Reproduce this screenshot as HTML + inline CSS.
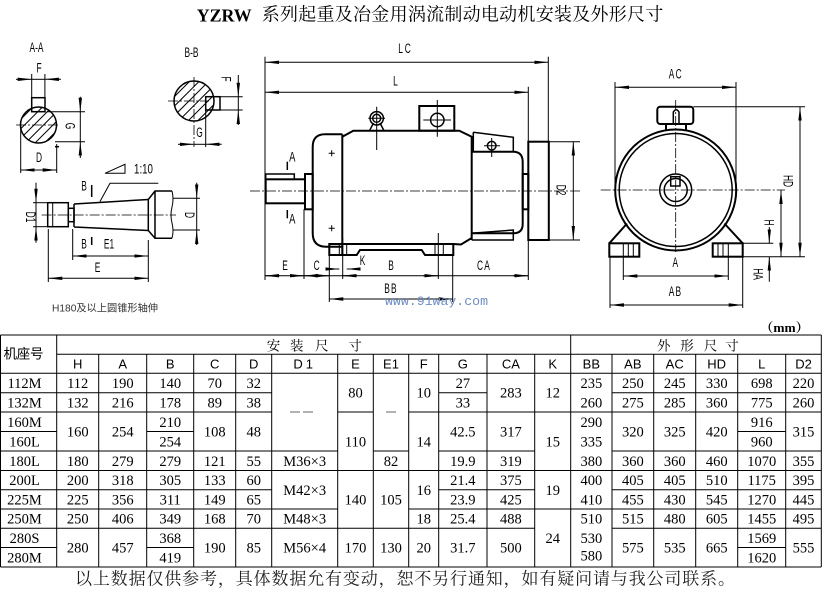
<!DOCTYPE html>
<html><head><meta charset="utf-8"><style>
html,body{margin:0;padding:0;background:#fff;}
svg{display:block;}
.t{stroke:#000;stroke-width:1;fill:none}
.k{stroke:#000;stroke-width:2;fill:none}
.m{stroke:#000;stroke-width:1.5;fill:none}
.c{stroke:#000;stroke-width:.8;stroke-dasharray:10 2 2 2;fill:none}
.d{stroke:#000;stroke-width:1;fill:none;marker-start:url(#a);marker-end:url(#a)}
.e{stroke:#000;stroke-width:1;fill:none;marker-end:url(#a)}
.lb{font-family:"Liberation Sans",sans-serif;font-size:13.5px;fill:#000}
.n{font-family:"Liberation Serif",serif;font-size:14.5px;fill:#000}
.h{font-family:"Liberation Sans",sans-serif;font-size:13px;fill:#000}
.tl{stroke:#000;stroke-width:1}
</style></head><body>
<svg width="837" height="605" viewBox="0 0 837 605" xmlns="http://www.w3.org/2000/svg">
<defs>
<marker id="a" viewBox="0 0 14 4" refX="14" refY="2" markerWidth="14" markerHeight="4" markerUnits="userSpaceOnUse" orient="auto-start-reverse"><path d="M0,0.3 L14,2 L0,3.7z" fill="#000"/></marker>
<clipPath id="cA"><circle cx="38.5" cy="125" r="18"/></clipPath>
<clipPath id="cB"><circle cx="194" cy="101" r="20"/></clipPath>
</defs>

<!-- Title -->
<text x="196.7" y="21.5" font-family="Liberation Serif,serif" font-weight="bold" font-size="18" textLength="55" lengthAdjust="spacingAndGlyphs">YZRW</text>
<text x="261.7" y="14.5" dominant-baseline="central" font-family="Liberation Serif,'Noto Serif CJK SC',serif" font-size="18" textLength="401.6" lengthAdjust="spacing">系列起重及冶金用涡流制动电动机安装及外形尺寸</text>

<!-- A-A section -->
<text class="lb" font-size="12" transform="translate(36.5,52) scale(.62,1)" text-anchor="middle">A-A</text>
<circle cx="38.5" cy="125" r="18" class="m"/>
<g clip-path="url(#cA)" class="t" stroke-width=".8">
<line x1="18" y1="122" x2="60" y2="80"/><line x1="18" y1="131.5" x2="60" y2="89.5"/><line x1="18" y1="141" x2="60" y2="99"/><line x1="18" y1="150.5" x2="60" y2="108.5"/><line x1="18" y1="160" x2="60" y2="118"/><line x1="18" y1="169.5" x2="60" y2="127.5"/><line x1="18" y1="179" x2="60" y2="137"/>
</g>
<rect x="31.7" y="97.7" width="13.3" height="14" fill="#fff" class="m"/>
<line x1="16" y1="125" x2="60" y2="125" class="c"/>
<line class="e" x1="16" y1="79.3" x2="31.7" y2="79.3"/><line class="e" x1="61" y1="79.3" x2="44.9" y2="79.3"/><line class="t" x1="31.7" y1="79.3" x2="44.9" y2="79.3"/>
<line class="t" x1="31.7" y1="74" x2="31.7" y2="97.7"/><line class="t" x1="44.9" y1="74" x2="44.9" y2="97.7"/>
<text class="lb" transform="translate(39,72.5) scale(.62,1)" text-anchor="middle">F</text>
<line class="e" x1="80.3" y1="96.7" x2="80.3" y2="111.7"/><line class="e" x1="80.3" y1="158" x2="80.3" y2="141.7"/><line class="t" x1="80.3" y1="111.7" x2="80.3" y2="141.7"/>
<line class="t" x1="46.7" y1="111.7" x2="85" y2="111.7"/><line class="t" x1="55" y1="141.7" x2="85" y2="141.7"/>
<text class="lb" transform="translate(70,126) rotate(90) scale(.62,1)" y="4.7" text-anchor="middle">G</text>
<line class="d" x1="20.7" y1="170" x2="56.7" y2="170"/>
<line class="t" x1="20.7" y1="125" x2="20.7" y2="173"/><line class="t" x1="56.7" y1="144" x2="56.7" y2="173"/>
<line x1="55" y1="146.7" x2="59" y2="146.7" class="m"/>
<text class="lb" transform="translate(39,162) scale(.62,1)" text-anchor="middle">D</text>

<!-- B-B section -->
<text class="lb" font-size="12" transform="translate(191.5,57) scale(.62,1)" text-anchor="middle">B-B</text>
<circle cx="194" cy="101" r="20" class="m"/>
<g clip-path="url(#cB)" class="t" stroke-width=".8">
<line x1="172" y1="99" x2="216" y2="55"/><line x1="172" y1="108.5" x2="216" y2="64.5"/><line x1="172" y1="118" x2="216" y2="74"/><line x1="172" y1="127.5" x2="216" y2="83.5"/><line x1="172" y1="137" x2="216" y2="93"/><line x1="172" y1="146.5" x2="216" y2="102.5"/><line x1="172" y1="156" x2="216" y2="112"/><line x1="172" y1="165.5" x2="216" y2="121.5"/>
</g>
<rect x="205.7" y="96.7" width="14.3" height="13.3" fill="#fff" class="m"/>
<line x1="168" y1="101" x2="209" y2="101" class="c"/><line x1="194" y1="77" x2="194" y2="147" class="c"/>
<line class="e" x1="238.3" y1="75" x2="238.3" y2="96.7"/><line class="e" x1="238.3" y1="125" x2="238.3" y2="110"/><line class="t" x1="238.3" y1="96.7" x2="238.3" y2="110"/>
<line class="t" x1="220" y1="96.7" x2="242.7" y2="96.7"/><line class="t" x1="220" y1="110" x2="242.7" y2="110"/>
<text class="lb" transform="translate(226,79) rotate(90) scale(.62,1)" y="4.7" text-anchor="middle">F</text>
<line class="e" x1="178" y1="144.3" x2="194" y2="144.3"/><line class="e" x1="221.7" y1="144.3" x2="205.7" y2="144.3"/><line class="t" x1="194" y1="144.3" x2="205.7" y2="144.3"/>
<line class="t" x1="205.7" y1="110" x2="205.7" y2="147"/>
<text class="lb" transform="translate(199.5,137) scale(.62,1)" text-anchor="middle">G</text>

<!-- Tapered shaft -->
<line x1="41.7" y1="215" x2="176" y2="215" class="c"/>
<rect x="47.7" y="202.7" width="20.6" height="24" class="m"/>
<line x1="52.7" y1="202.7" x2="52.7" y2="226.7" class="t" stroke-width="1.2"/>
<rect x="68.3" y="208.3" width="5.7" height="13.4" class="m"/>
<path class="m" d="M74,204 L148.3,199.5 M74,227 L148.3,230.5 M74,204 V227"/>
<path class="m" d="M148.3,199.5 V230.5 M148.3,199.5 L155,191 H172 M148.3,230.5 L155,238.3 H172 M155,191 V238.3"/>
<path class="t" d="M172,191 q2,8 0,16 q-2,8 0,16 q2,8 0,15.3"/>
<polyline points="100,201.5 110,183.3 158.3,183.3" class="t"/>
<path d="M105,173.3 L125,164.3 V173.3 Z" class="t"/>
<text class="lb" font-size="14" transform="translate(143.5,173.5) scale(.72,1)" text-anchor="middle">1:10</text>
<line x1="91.7" y1="185" x2="91.7" y2="197" class="m"/><line x1="91.7" y1="237" x2="91.7" y2="245" class="m"/>
<text class="lb" transform="translate(84,190.5) scale(.62,1)" text-anchor="middle">B</text>
<text class="lb" transform="translate(84,248.5) scale(.62,1)" text-anchor="middle">B</text>
<text class="lb" transform="translate(109,248.5) scale(.62,1)" text-anchor="middle">E1</text>
<line class="e" x1="36" y1="182.7" x2="36" y2="202.7"/><line class="e" x1="36" y1="242.7" x2="36" y2="226.7"/><line class="t" x1="36" y1="202.7" x2="36" y2="226.7"/>
<line class="t" x1="33" y1="202.7" x2="47.7" y2="202.7"/><line class="t" x1="33" y1="226.7" x2="47.7" y2="226.7"/>
<text class="lb" transform="translate(30.5,217) rotate(90) scale(.62,1)" y="4.7" text-anchor="middle">D1</text>
<line class="e" x1="196.7" y1="182.7" x2="196.7" y2="198.3"/><line class="e" x1="196.7" y1="245" x2="196.7" y2="230"/><line class="t" x1="196.7" y1="198.3" x2="196.7" y2="230"/>
<line class="t" x1="172.7" y1="198.3" x2="200" y2="198.3"/><line class="t" x1="172.7" y1="230" x2="200" y2="230"/>
<text class="lb" transform="translate(189.5,215) rotate(90) scale(.62,1)" y="4.7" text-anchor="middle">D</text>
<line class="d" x1="72.7" y1="256" x2="148.3" y2="256"/>
<line class="t" x1="72.7" y1="229" x2="72.7" y2="260"/><line class="t" x1="148.3" y1="240" x2="148.3" y2="282"/>
<line class="d" x1="48.3" y1="278.3" x2="148.3" y2="278.3"/>
<line class="t" x1="48.3" y1="229" x2="48.3" y2="282"/>
<text class="lb" transform="translate(97.5,272) scale(.62,1)" text-anchor="middle">E</text>
<text x="52" y="311.5" font-family="Liberation Sans,'Noto Sans CJK SC',sans-serif" font-size="10" fill="#333" textLength="106" lengthAdjust="spacingAndGlyphs">H180及以上圆锥形轴伸</text>

<!-- Main side view -->
<line x1="250" y1="191" x2="580" y2="191" class="c"/>
<line class="d" x1="265" y1="62.3" x2="548.3" y2="62.3"/>
<line class="t" x1="265" y1="56.7" x2="265" y2="280"/><line class="t" x1="548.3" y1="56.7" x2="548.3" y2="141.7"/>
<text class="lb" transform="translate(405.5,53) scale(.62,1)" text-anchor="middle" letter-spacing="3">LC</text>
<line class="d" x1="265" y1="92.3" x2="528.3" y2="92.3"/>
<line class="t" x1="528.3" y1="86.7" x2="528.3" y2="280"/>
<text class="lb" transform="translate(395.5,85.5) scale(.62,1)" text-anchor="middle">L</text>
<rect class="k" x="265.7" y="179.3" width="39.3" height="24"/>
<rect class="m" x="265.7" y="174" width="28.6" height="5.3"/>
<rect class="k" x="305" y="174" width="7.7" height="35.3"/>
<path class="k" d="M342.3,134.3 H325 Q312.7,134.3 312.7,147 V233 Q312.7,246.7 326,246.7 H342.3"/>
<line class="k" x1="342.3" y1="134.3" x2="342.3" y2="255"/>
<path class="k" d="M342.3,136.7 L353.3,130.7 H459.3 L471.7,136.7 V240 M453.3,244 L461,244.5 L471.7,238"/>
<path class="k" d="M329.3,244 H453.3 V255 H425 L421.7,250 H360 L356.7,255 H329.3 Z"/>
<path class="t" d="M339.3,244 V255 M346.7,244 V255 M435,244 V255 M443.3,244 V255"/>
<line class="t" x1="342.7" y1="238" x2="342.7" y2="279"/><line class="t" x1="438.3" y1="233" x2="438.3" y2="279"/>
<circle cx="376.7" cy="118.3" r="6.7" class="m"/><circle cx="376.7" cy="118.3" r="4" class="m"/>
<path class="m" d="M369.5,130.7 L373.5,123 M384,130.7 L380,123"/>
<path class="t" d="M376.7,106.7 V150 M368.3,118.3 H385"/>
<rect class="k" x="419.3" y="106" width="35" height="24.7"/>
<circle cx="437.3" cy="120" r="6.7" class="m"/>
<path class="t" d="M437.3,100 V136.7 M423.3,120 H451"/>
<path class="m" d="M473.3,132.3 L513.3,137.3 V151.7 M473.3,132.3 V151.7"/>
<circle cx="491.7" cy="145.7" r="4.3" class="m"/>
<path class="t" d="M491.7,138 V157 M484,145.7 H500"/>
<path class="k" d="M471.7,151.7 H513.3 Q522.7,151.7 522.7,162 V224 Q522.7,233.3 513.3,233.3 H471.7"/>
<path class="m" d="M471.7,233.3 L513.3,230 V240 H471.7"/>
<rect class="k" x="522.7" y="174" width="5.6" height="35.3"/>
<rect class="k" x="528.3" y="141.7" width="20.5" height="98.3"/>
<path class="t" d="M328.7,153.3h6M331.7,150.3v6 M328.7,228.3h6M331.7,225.3v6"/>
<line class="m" x1="287.3" y1="161.7" x2="287.3" y2="170"/><line class="m" x1="287.3" y1="210" x2="287.3" y2="218.3"/>
<text class="lb" font-size="9.5" transform="translate(292.3,161.5) scale(.7,1)" text-anchor="middle">A</text>
<text class="lb" font-size="9.5" transform="translate(292.3,223.5) scale(.7,1)" text-anchor="middle">A</text>
<line class="d" x1="573.3" y1="141.7" x2="573.3" y2="240"/>
<line class="t" x1="549.3" y1="141.7" x2="580" y2="141.7"/><line class="t" x1="549.3" y1="240" x2="580" y2="240"/>
<text class="lb" transform="translate(561,190) rotate(90) scale(.62,1)" y="4.7" text-anchor="middle">D2</text>
<!-- bottom dims -->
<line class="t" x1="265" y1="275.7" x2="528.3" y2="275.7"/>
<line class="e" x1="280" y1="275.7" x2="265" y2="275.7"/>
<line class="e" x1="290" y1="275.7" x2="304" y2="275.7"/>
<line class="e" x1="316" y1="275.7" x2="304" y2="275.7"/>
<line class="e" x1="318" y1="275.7" x2="329.3" y2="275.7"/>
<line class="e" x1="357" y1="275.7" x2="342.7" y2="275.7"/>
<line class="e" x1="423" y1="275.7" x2="438.3" y2="275.7"/>
<line class="e" x1="513" y1="275.7" x2="528.3" y2="275.7"/>
<line class="t" x1="304" y1="209.3" x2="304" y2="279"/>
<line class="t" x1="329.3" y1="255" x2="329.3" y2="302"/>
<line class="t" x1="452.7" y1="255" x2="452.7" y2="302"/>
<line class="e" x1="328.3" y1="269" x2="339.3" y2="269"/><line class="e" x1="360" y1="269" x2="346.7" y2="269"/>
<line class="d" x1="329.3" y1="299" x2="452.7" y2="299"/>
<text class="lb" transform="translate(285,270) scale(.62,1)" text-anchor="middle">E</text>
<text class="lb" transform="translate(316.7,270) scale(.62,1)" text-anchor="middle">C</text>
<text class="lb" transform="translate(362.5,265) scale(.62,1)" text-anchor="middle">K</text>
<text class="lb" transform="translate(391,270) scale(.62,1)" text-anchor="middle">B</text>
<text class="lb" transform="translate(484,270) scale(.62,1)" text-anchor="middle" letter-spacing="2">CA</text>
<text class="lb" transform="translate(391,293) scale(.62,1)" text-anchor="middle" letter-spacing="2">BB</text>
<text x="385" y="305" font-family="Liberation Mono,monospace" font-size="13" fill="#6f8ec4" textLength="103" lengthAdjust="spacingAndGlyphs">www.91way.com</text>

<!-- Front view -->
<line class="d" x1="615" y1="87.3" x2="736" y2="87.3"/>
<line class="t" x1="615" y1="82" x2="615" y2="190"/><line class="t" x1="736" y1="82" x2="736" y2="190"/>
<text class="lb" transform="translate(675.8,78.5) scale(.62,1)" text-anchor="middle" letter-spacing="2">AC</text>
<circle cx="675.7" cy="190" r="60.5" class="k"/>
<circle cx="675.7" cy="190" r="56.5" class="m"/>
<circle cx="675.7" cy="190" r="16" class="m"/>
<circle cx="675.7" cy="190" r="11.5" class="m"/>
<rect x="670.7" y="176.7" width="9.3" height="9.3" fill="#fff" class="m"/>
<path class="k" d="M666,124 V130.5 M686,124 V130.5"/>
<rect x="657.3" y="106.7" width="36" height="17.3" rx="3" fill="#fff" class="k"/>
<path class="m" d="M673.3,124 V112 Q676.2,107.5 679,112 V124"/>
<line x1="675.7" y1="100" x2="675.7" y2="252" class="c"/>
<line x1="600.7" y1="190" x2="785" y2="190" class="c"/>
<path class="k" d="M609.3,243.3 L627,223.5 M742.7,243.3 L724.4,223.5"/>
<rect x="609.3" y="243.3" width="30" height="13.4" fill="#fff" class="k"/>
<rect x="712.7" y="243.3" width="30" height="13.4" fill="#fff" class="k"/>
<path class="t" d="M623.3,243.3V256.7M628.3,243.3V256.7M633.3,243.3V256.7M718,243.3V256.7M723,243.3V256.7M728.3,243.3V256.7"/>
<line class="d" x1="623.3" y1="276" x2="728.3" y2="276"/>
<line class="t" x1="623.3" y1="256.7" x2="623.3" y2="280"/><line class="t" x1="728.3" y1="256.7" x2="728.3" y2="280"/>
<text class="lb" transform="translate(675.3,267) scale(.62,1)" text-anchor="middle">A</text>
<line class="d" x1="610" y1="305" x2="742.7" y2="305"/>
<line class="t" x1="610" y1="256.7" x2="610" y2="308"/><line class="t" x1="742.7" y1="256.7" x2="742.7" y2="308"/>
<text class="lb" transform="translate(675.5,296) scale(.62,1)" text-anchor="middle" letter-spacing="2">AB</text>
<line class="d" x1="800" y1="106.7" x2="800" y2="256.7"/>
<line class="t" x1="693.3" y1="106.7" x2="805" y2="106.7"/><line class="t" x1="742.7" y1="256.7" x2="805" y2="256.7"/>
<text class="lb" transform="translate(788.3,181) rotate(90) scale(.62,1)" y="4.7" text-anchor="middle">HD</text>
<line class="d" x1="781" y1="190" x2="781" y2="256.7"/>
<text class="lb" transform="translate(769,222.5) rotate(90) scale(.62,1)" y="4.7" text-anchor="middle">H</text>
<line class="e" x1="769.3" y1="227" x2="769.3" y2="243.3"/><line class="e" x1="769.3" y1="281.7" x2="769.3" y2="256.7"/>
<line class="t" x1="742.7" y1="243.3" x2="773.3" y2="243.3"/>
<text class="lb" transform="translate(758.3,274) rotate(90) scale(.62,1)" y="4.7" text-anchor="middle">HA</text>

<!-- mm -->
<text x="760" y="332" font-family="Liberation Serif,'Noto Serif CJK SC',serif" font-weight="bold" font-size="13" textLength="49" lengthAdjust="spacingAndGlyphs">（mm）</text>

<!-- Table lines -->
<g class="tl">
<line x1="0.5" y1="335" x2="821.3" y2="335"/>
<line x1="56.7" y1="354.3" x2="821.3" y2="354.3"/>
<line x1="0.5" y1="373.3" x2="821.3" y2="373.3"/>
<line x1="0.5" y1="567" x2="821.3" y2="567"/>
<line x1="0.5" y1="392.7" x2="271.7" y2="392.7"/><line x1="438.7" y1="392.7" x2="487" y2="392.7"/><line x1="612" y1="392.7" x2="821.3" y2="392.7"/>
<line x1="0.5" y1="412" x2="271.7" y2="412"/><line x1="337.7" y1="412" x2="373.3" y2="412"/><line x1="408.7" y1="412" x2="821.3" y2="412"/>
<line x1="0.5" y1="431.5" x2="56.7" y2="431.5"/><line x1="146.7" y1="431.5" x2="193.7" y2="431.5"/><line x1="737.7" y1="431.5" x2="785.7" y2="431.5"/>
<line x1="0.5" y1="451" x2="337.7" y2="451"/><line x1="373.3" y1="451" x2="408.7" y2="451"/><line x1="438.7" y1="451" x2="534.7" y2="451"/><line x1="612" y1="451" x2="821.3" y2="451"/>
<line x1="0.5" y1="470.5" x2="821.3" y2="470.5"/>
<line x1="0.5" y1="489.7" x2="271.7" y2="489.7"/><line x1="438.7" y1="489.7" x2="534.7" y2="489.7"/><line x1="612" y1="489.7" x2="821.3" y2="489.7"/>
<line x1="0.5" y1="509" x2="337.7" y2="509"/><line x1="408.7" y1="509" x2="821.3" y2="509"/>
<line x1="0.5" y1="528.3" x2="534.7" y2="528.3"/><line x1="612" y1="528.3" x2="821.3" y2="528.3"/>
<line x1="0.5" y1="547.5" x2="56.7" y2="547.5"/><line x1="146.7" y1="547.5" x2="193.7" y2="547.5"/><line x1="737.7" y1="547.5" x2="785.7" y2="547.5"/>
<line x1="0.5" y1="335" x2="0.5" y2="567"/>
<line x1="56.7" y1="335" x2="56.7" y2="567"/>
<line x1="570.7" y1="335" x2="570.7" y2="567"/>
<line x1="821.3" y1="335" x2="821.3" y2="567"/>
<line x1="98.7" y1="354.3" x2="98.7" y2="567"/><line x1="146.7" y1="354.3" x2="146.7" y2="567"/><line x1="193.7" y1="354.3" x2="193.7" y2="567"/><line x1="235.7" y1="354.3" x2="235.7" y2="567"/><line x1="271.7" y1="354.3" x2="271.7" y2="567"/><line x1="337.7" y1="354.3" x2="337.7" y2="567"/><line x1="373.3" y1="354.3" x2="373.3" y2="567"/><line x1="408.7" y1="354.3" x2="408.7" y2="567"/><line x1="438.7" y1="354.3" x2="438.7" y2="567"/><line x1="487" y1="354.3" x2="487" y2="567"/><line x1="534.7" y1="354.3" x2="534.7" y2="567"/><line x1="612" y1="354.3" x2="612" y2="567"/><line x1="653.7" y1="354.3" x2="653.7" y2="567"/><line x1="695.7" y1="354.3" x2="695.7" y2="567"/><line x1="737.7" y1="354.3" x2="737.7" y2="567"/><line x1="785.7" y1="354.3" x2="785.7" y2="567"/>
</g>

<!-- Table headers -->
<text x="3.5" y="354" dominant-baseline="central" font-family="Liberation Sans,'Noto Sans CJK SC',sans-serif" font-size="13.5" textLength="40">机座号</text>
<g font-family="Liberation Serif,'Noto Serif CJK SC',serif" font-size="13.5">
<text x="266.7" y="346" dominant-baseline="central">安</text><text x="290" y="346" dominant-baseline="central">装</text><text x="315" y="346" dominant-baseline="central">尺</text><text x="348.3" y="346" dominant-baseline="central">寸</text>
<text x="657" y="346" dominant-baseline="central">外</text><text x="680.3" y="346" dominant-baseline="central">形</text><text x="703.7" y="346" dominant-baseline="central">尺</text><text x="725.3" y="346" dominant-baseline="central">寸</text>
</g>
<g class="h" text-anchor="middle">
<text x="77.7" y="368.5">H</text><text x="122.7" y="368.5">A</text><text x="170.2" y="368.5">B</text><text x="214.7" y="368.5">C</text><text x="253.7" y="368.5">D</text><text x="304.7" y="368.5" letter-spacing="3">D1</text><text x="355.5" y="368.5">E</text><text x="391" y="368.5">E1</text><text x="423.7" y="368.5">F</text><text x="462.85" y="368.5">G</text><text x="510.85" y="368.5">CA</text><text x="552.7" y="368.5">K</text><text x="591.35" y="368.5">BB</text><text x="632.85" y="368.5">AB</text><text x="674.7" y="368.5">AC</text><text x="716.7" y="368.5">HD</text><text x="761.7" y="368.5">L</text><text x="803.5" y="368.5">D2</text>
</g>

<!-- dashes -->
<path d="M290,412 H300 M303,412 H313 M386,412 H396" stroke="#999" stroke-width="1.5"/>

<!-- Table values -->
<g class="n" text-anchor="middle">
<!-- r0 -->
<text x="24.5" y="388">112M</text><text x="77.7" y="388">112</text><text x="122.7" y="388">190</text><text x="170.2" y="388">140</text><text x="214.7" y="388">70</text><text x="253.7" y="388">32</text><text x="462.85" y="388">27</text><text x="591.35" y="388">235</text><text x="632.85" y="388">250</text><text x="674.7" y="388">245</text><text x="716.7" y="388">330</text><text x="761.7" y="388">698</text><text x="803.5" y="388">220</text>
<!-- r0-1 -->
<text x="355.5" y="397.7">80</text><text x="423.7" y="397.7">10</text><text x="510.85" y="397.7">283</text><text x="552.7" y="397.7">12</text>
<!-- r1 -->
<text x="24.5" y="407.4">132M</text><text x="77.7" y="407.4">132</text><text x="122.7" y="407.4">216</text><text x="170.2" y="407.4">178</text><text x="214.7" y="407.4">89</text><text x="253.7" y="407.4">38</text><text x="462.85" y="407.4">33</text><text x="591.35" y="407.4">260</text><text x="632.85" y="407.4">275</text><text x="674.7" y="407.4">285</text><text x="716.7" y="407.4">360</text><text x="761.7" y="407.4">775</text><text x="803.5" y="407.4">260</text>
<!-- r2 -->
<text x="24.5" y="426.8">160M</text><text x="170.2" y="426.8">210</text><text x="591.35" y="426.8">290</text><text x="761.7" y="426.8">916</text>
<!-- r2-3 -->
<text x="77.7" y="436.5">160</text><text x="122.7" y="436.5">254</text><text x="214.7" y="436.5">108</text><text x="253.7" y="436.5">48</text><text x="462.85" y="436.5">42.5</text><text x="510.85" y="436.5">317</text><text x="632.85" y="436.5">320</text><text x="674.7" y="436.5">325</text><text x="716.7" y="436.5">420</text><text x="803.5" y="436.5">315</text>
<!-- r2-4 -->
<text x="355.5" y="446.3">110</text><text x="423.7" y="446.3">14</text><text x="552.7" y="446.3">15</text>
<!-- r3 -->
<text x="24.5" y="446.3">160L</text><text x="170.2" y="446.3">254</text><text x="591.35" y="446.3">335</text><text x="761.7" y="446.3">960</text>
<!-- r4 -->
<text x="24.5" y="465.8">180L</text><text x="77.7" y="465.8">180</text><text x="122.7" y="465.8">279</text><text x="170.2" y="465.8">279</text><text x="214.7" y="465.8">121</text><text x="253.7" y="465.8">55</text><text x="304.7" y="465.8">M36×3</text><text x="391" y="465.8">82</text><text x="462.85" y="465.8">19.9</text><text x="510.85" y="465.8">319</text><text x="591.35" y="465.8">380</text><text x="632.85" y="465.8">360</text><text x="674.7" y="465.8">360</text><text x="716.7" y="465.8">460</text><text x="761.7" y="465.8">1070</text><text x="803.5" y="465.8">355</text>
<!-- r5 -->
<text x="24.5" y="485.1">200L</text><text x="77.7" y="485.1">200</text><text x="122.7" y="485.1">318</text><text x="170.2" y="485.1">305</text><text x="214.7" y="485.1">133</text><text x="253.7" y="485.1">60</text><text x="462.85" y="485.1">21.4</text><text x="510.85" y="485.1">375</text><text x="591.35" y="485.1">400</text><text x="632.85" y="485.1">405</text><text x="674.7" y="485.1">405</text><text x="716.7" y="485.1">510</text><text x="761.7" y="485.1">1175</text><text x="803.5" y="485.1">395</text>
<!-- r5-6 -->
<text x="304.7" y="494.8">M42×3</text><text x="423.7" y="494.8">16</text><text x="552.7" y="494.8">19</text>
<!-- r5-7 -->
<text x="355.5" y="504.4">140</text><text x="391" y="504.4">105</text>
<!-- r6 -->
<text x="24.5" y="504.4">225M</text><text x="77.7" y="504.4">225</text><text x="122.7" y="504.4">356</text><text x="170.2" y="504.4">311</text><text x="214.7" y="504.4">149</text><text x="253.7" y="504.4">65</text><text x="462.85" y="504.4">23.9</text><text x="510.85" y="504.4">425</text><text x="591.35" y="504.4">410</text><text x="632.85" y="504.4">455</text><text x="674.7" y="504.4">430</text><text x="716.7" y="504.4">545</text><text x="761.7" y="504.4">1270</text><text x="803.5" y="504.4">445</text>
<!-- r7 -->
<text x="24.5" y="523.7">250M</text><text x="77.7" y="523.7">250</text><text x="122.7" y="523.7">406</text><text x="170.2" y="523.7">349</text><text x="214.7" y="523.7">168</text><text x="253.7" y="523.7">70</text><text x="304.7" y="523.7">M48×3</text><text x="423.7" y="523.7">18</text><text x="462.85" y="523.7">25.4</text><text x="510.85" y="523.7">488</text><text x="591.35" y="523.7">510</text><text x="632.85" y="523.7">515</text><text x="674.7" y="523.7">480</text><text x="716.7" y="523.7">605</text><text x="761.7" y="523.7">1455</text><text x="803.5" y="523.7">495</text>
<!-- r7-9 -->
<text x="552.7" y="543">24</text>
<!-- r8 -->
<text x="24.5" y="542.9">280S</text><text x="170.2" y="542.9">368</text><text x="591.35" y="542.9">530</text><text x="761.7" y="542.9">1569</text>
<!-- r8-9 -->
<text x="77.7" y="552.7">280</text><text x="122.7" y="552.7">457</text><text x="214.7" y="552.7">190</text><text x="253.7" y="552.7">85</text><text x="304.7" y="552.7">M56×4</text><text x="355.5" y="552.7">170</text><text x="391" y="552.7">130</text><text x="423.7" y="552.7">20</text><text x="462.85" y="552.7">31.7</text><text x="510.85" y="552.7">500</text><text x="632.85" y="552.7">575</text><text x="674.7" y="552.7">535</text><text x="716.7" y="552.7">665</text><text x="803.5" y="552.7">555</text>
<!-- r9 -->
<text x="24.5" y="562.3">280M</text><text x="170.2" y="562.3">419</text><text x="591.35" y="560.5">580</text><text x="761.7" y="562.3">1620</text>
</g>

<!-- Footer -->
<text x="75" y="579" dominant-baseline="central" font-family="Liberation Serif,'Noto Serif CJK SC',serif" font-size="17" fill="#222" textLength="660" lengthAdjust="spacing">以上数据仅供参考，具体数据允有变动，恕不另行通知，如有疑问请与我公司联系。</text>
</svg>
</body></html>
